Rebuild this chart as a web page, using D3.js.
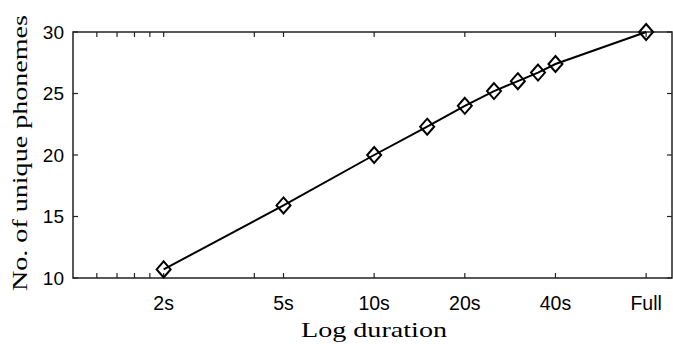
<!DOCTYPE html>
<html>
<head>
<meta charset="utf-8">
<script src="https://cdn.jsdelivr.net/npm/d3@7"></script>
<style>
  body { margin: 0; background: #fff; }
</style>
</head>
<body>
<svg id="chart" width="673" height="344"></svg>
<script>
// durations in seconds ("Full" plotted at 80s)
const durations = [2, 5, 10, 15, 20, 25, 30, 35, 40, 80];
const phonemes = [10.7, 15.9, 20.0, 22.3, 24.0, 25.2, 26.0, 26.7, 27.4, 30.0];
const xTickValues = [2, 5, 10, 20, 40, 80];
const xTickLabels = ['2s', '5s', '10s', '20s', '40s', 'Full'];
const xMinorTicks = [1.2, 1.4, 1.6, 1.8, 4];
const yTickValues = [10, 15, 20, 25, 30];

const svg = d3.select('#chart');
const margin = { top: 32, right: 1, bottom: 66, left: 73 };
const width = +svg.attr('width');
const height = +svg.attr('height');

const x = d3.scaleLog().domain([1, 97.5]).range([margin.left, width - margin.right]);
const y = d3.scaleLinear().domain([10, 30]).range([height - margin.bottom, margin.top]);

const axisColor = '#222';
const tick = 5;

// ticks (inward, mirrored on all sides)
const g = svg.append('g').attr('stroke', axisColor).attr('stroke-width', 1.2);
[...xTickValues, ...xMinorTicks].forEach(v => {
  g.append('line').attr('x1', x(v)).attr('x2', x(v)).attr('y1', y(10)).attr('y2', y(10) - tick);
  g.append('line').attr('x1', x(v)).attr('x2', x(v)).attr('y1', y(30)).attr('y2', y(30) + tick);
});
yTickValues.forEach(v => {
  g.append('line').attr('x1', x.range()[0]).attr('x2', x.range()[0] + tick).attr('y1', y(v)).attr('y2', y(v));
  g.append('line').attr('x1', x.range()[1]).attr('x2', x.range()[1] - tick).attr('y1', y(v)).attr('y2', y(v));
});

// box
svg.append('rect')
  .attr('x', x.range()[0]).attr('y', y(30))
  .attr('width', x.range()[1] - x.range()[0])
  .attr('height', y(10) - y(30))
  .attr('fill', 'none').attr('stroke', axisColor).attr('stroke-width', 1.5);

// tick labels
const labelFont = '"Liberation Sans", Arial, sans-serif';
svg.append('g').selectAll('text').data(xTickValues).join('text')
  .attr('x', d => x(d)).attr('y', 310)
  .attr('text-anchor', 'middle')
  .attr('font-family', labelFont).attr('font-size', 19.5)
  .text((d, i) => xTickLabels[i]);

svg.append('g').selectAll('text').data(yTickValues).join('text')
  .attr('x', 64).attr('y', d => y(d) + 6.8)
  .attr('text-anchor', 'end')
  .attr('font-family', labelFont).attr('font-size', 19)
  .text(d => d);

// axis titles
const titleFont = '"Liberation Serif", "DejaVu Serif", serif';
svg.append('text')
  .attr('x', 374).attr('y', 337)
  .attr('text-anchor', 'middle')
  .attr('font-family', titleFont).attr('font-size', 22)
  .attr('textLength', 146).attr('lengthAdjust', 'spacingAndGlyphs')
  .text('Log duration');

svg.append('text')
  .attr('transform', 'translate(27, 153) rotate(-90)')
  .attr('text-anchor', 'middle')
  .attr('font-family', titleFont).attr('font-size', 22)
  .attr('textLength', 276).attr('lengthAdjust', 'spacingAndGlyphs')
  .text('No. of unique phonemes');

// line
const data = durations.map((d, i) => ({ d, v: phonemes[i] }));
const line = d3.line().x(p => x(p.d)).y(p => y(p.v));
svg.append('path')
  .datum(data)
  .attr('fill', 'none')
  .attr('stroke', '#000')
  .attr('stroke-width', 2)
  .attr('d', line);

// diamond markers
const diamond = 'M0,-8L7,0L0,8L-7,0Z';
svg.append('g').selectAll('path').data(data).join('path')
  .attr('transform', p => `translate(${x(p.d)},${y(p.v)})`)
  .attr('d', diamond)
  .attr('fill', 'none')
  .attr('stroke', '#000')
  .attr('stroke-width', 2);
</script>
</body>
</html>
